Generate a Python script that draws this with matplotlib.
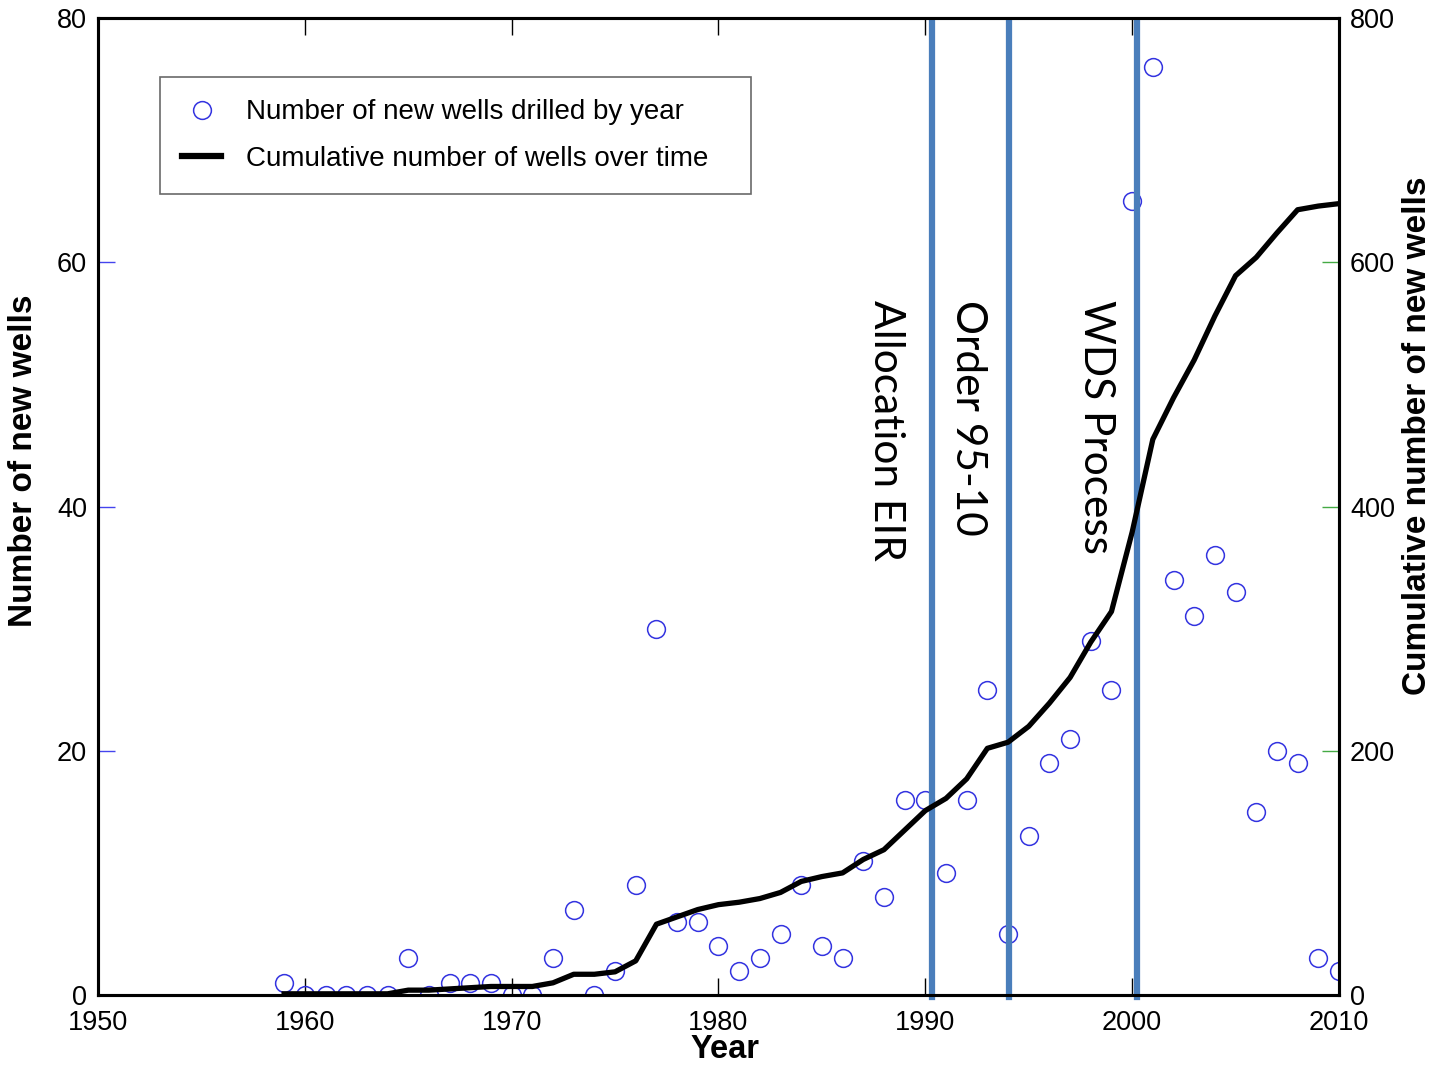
import numpy as np
import matplotlib
matplotlib.use("Agg")
import matplotlib.pyplot as plt
from matplotlib.lines import Line2D

plt.rcParams['font.family'] = ['Liberation Sans', 'DejaVu Sans']

# data
years = list(range(1959, 2011))
new_wells = [1, 0, 0, 0, 0, 0, 3, 0, 1, 1, 1, 0, 0, 3, 7, 0, 2, 9, 30, 6,
             6, 4, 2, 3, 5, 9, 4, 3, 11, 8, 16, 16, 10, 16, 25, 5, 13, 19, 21, 29,
             25, 65, 76, 34, 31, 36, 33, 15, 20, 19, 3, 2]
cumulative = [1, 1, 1, 1, 1, 1, 4, 4, 5, 6, 7, 7, 7, 10, 17, 17, 19, 28, 58, 64,
              70, 74, 76, 79, 84, 93, 97, 100, 111, 119, 135, 151, 161, 177, 202, 207, 220, 239, 260, 289,
              314, 379, 455, 489, 520, 556, 589, 604, 624, 643, 646, 648]
event_years = [1990.3, 1994.05, 2000.25]
event_labels = ['Allocation EIR', 'Order 95-10', 'WDS Process']
label_offsets = [2.2, 2.0, 2.0]
x_ticks = [1950, 1960, 1970, 1980, 1990, 2000, 2010]
left_ticks = [0, 20, 40, 60, 80]
right_ticks = [0, 200, 400, 600, 800]

fig = plt.figure(figsize=(14.41, 10.65), dpi=100)
ax1 = fig.add_axes([0.068, 0.0657, 0.8612, 0.9174])
ax2 = ax1.twinx()

ax1.plot(years, new_wells, 'o', mfc='none', mec='#3333e0', ms=12.8, mew=1.1,
         zorder=2)

for yr in event_years:
    ax1.plot([yr, yr], [-0.2, 79.6], color='#4a7ebb', lw=4.5, zorder=3,
             clip_on=False)

ax2.plot(years, cumulative, color='black', lw=3.8, zorder=4)

for yr, lab, off in zip(event_years, event_labels, label_offsets):
    ax1.text(yr - off, 56.9, lab, rotation=270, ha='center', va='top',
             fontsize=30.5, family=['Lato', 'DejaVu Sans'], zorder=5)

ax1.set_xlim(1950, 2010)
ax1.set_ylim(0, 80)
ax2.set_ylim(0, 800)
ax1.set_xticks(x_ticks)
ax1.set_yticks(left_ticks)
ax2.set_yticks(right_ticks)

ax1.tick_params(axis='x', direction='in', length=12, width=1, color='black',
                labelsize=19.5, pad=11, top=True)
ax1.tick_params(axis='y', direction='in', length=12, width=1, color='#4444ee',
                labelsize=19.5, pad=8)
ax2.tick_params(axis='y', direction='in', length=12, width=1, color='#44aa44',
                labelsize=19.5, pad=8)

for sp in ax1.spines.values():
    sp.set_linewidth(2.2)
for sp in ax2.spines.values():
    sp.set_linewidth(2.2)

# axis titles placed where the reference has them
fig.text(725 / 1441, 1 - 1050 / 1065, 'Year', fontsize=23.5,
         fontweight='bold', ha='center', va='center')
fig.text(24 / 1441, 1 - 461 / 1065, 'Number of new wells', fontsize=24,
         fontweight='bold', rotation=90, ha='center', va='center')
fig.text(1418 / 1441, 1 - 436 / 1065, 'Cumulative number of new wells',
         fontsize=24, fontweight='bold', rotation=90, ha='center',
         va='center')

handles = [
    Line2D([], [], marker='o', ls='none', mfc='none', mec='#3333e0', ms=12.8,
           mew=1.1),
    Line2D([], [], color='black', lw=4.5),
]
leg = ax2.legend(handles, ['Number of new wells drilled by year',
                           'Cumulative number of wells over time'],
                 loc='upper left', bbox_to_anchor=(0.05, 0.5, 0.476, 0.4396),
                 mode='expand', fontsize=20, frameon=True, fancybox=False,
                 handlelength=1.4, handletextpad=0.9, borderpad=0.8,
                 labelspacing=0.73, borderaxespad=0)
leg.get_frame().set_edgecolor('#444444')
leg.get_frame().set_linewidth(1.2)

fig.savefig('out.png', dpi=100)
